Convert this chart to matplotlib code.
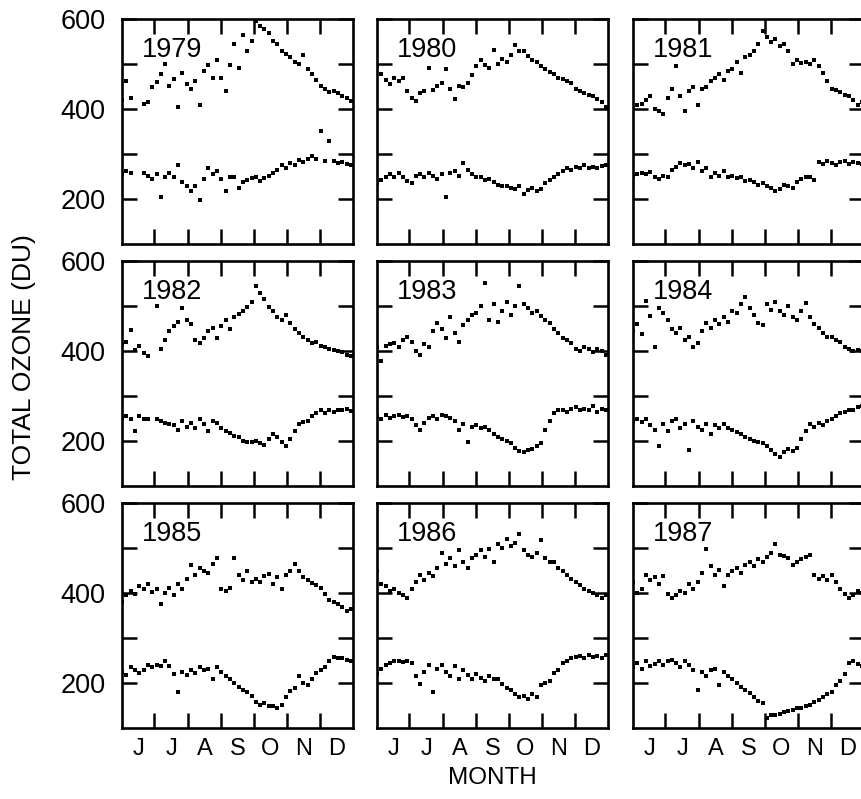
import matplotlib
matplotlib.use("Agg")
import matplotlib.pyplot as plt

plt.rcParams['font.family'] = ['Liberation Sans', 'DejaVu Sans']

nan = float('nan')

# ---- data -------------------------------------------------------------
years = [1979, 1980, 1981, 1982, 1983, 1984, 1985, 1986, 1987]
month_labels = ['J', 'J', 'A', 'S', 'O', 'N', 'D']
month_lengths = [30, 31, 31, 30, 31, 30, 31]          # June .. December
days = list(range(0, 213, 4))                          # day index since 1 June

max_1979 = [420, 462, 425, nan, nan, 412, 416, 448,
            460, 478, 500, 452, 466, 404, 480, 455,
            445, 462, 410, 485, 497, 470, 508,
            470, 440, 498, 545, 492, 565, 528, 552,
            595, 585, 578, 568, 552, 545, 530, 522,
            515, 505, 500, 520, 490, 478, 465,
            452, 445, 438, 440, 435, 428, 424, 418]
min_1979 = [255, 262, 258, nan, nan, 258, 252, 245,
            255, 205, 250, 258, 248, 275, 238, 228,
            218, 230, 198, 245, 268, 255, 262,
            245, 218, 248, 250, 225, 238, 242, 246,
            250, 240, 246, 252, 258, 265, 275, 270,
            280, 276, 286, 282, 290, 295, 290,
            352, 285, 330, 284, 280, 282, 278, 276]

max_1980 = [495, 478, 465, 455, 470, 462, 468, 440,
            425, 418, 435, 440, 492, 442, 452, 458,
            490, 445, 422, 452, 450, 458, 475,
            495, 510, 498, 492, 532, 500, 512, 505,
            520, 543, 528, 530, 518, 510, 505, 495,
            488, 482, 478, 470, 466, 462, 458,
            445, 440, 435, 432, 428, 422, 415, 405]
min_1980 = [235, 242, 250, 255, 248, 258, 250, 240,
            235, 252, 256, 248, 258, 252, 245, 255,
            205, 258, 262, 252, 280, 265, 255,
            250, 248, 242, 245, 238, 232, 228, 230,
            225, 222, 228, 212, 220, 225, 218, 222,
            235, 242, 250, 255, 262, 268, 265,
            272, 268, 275, 270, 272, 268, 274, 276]

max_1981 = [402, 410, 412, 420, 428, 400, 395, 390,
            425, 445, 496, 430, 396, 440, 448, 410,
            445, 450, 462, 470, 478, 465, 485,
            490, 505, 480, 515, 520, 530, 545, 573,
            560, 548, 555, 540, 545, 530, 500, 510,
            502, 505, 500, 508, 495, 480, 462,
            445, 442, 438, 432, 428, 420, 410, 415]
min_1981 = [252, 256, 258, 255, 260, 248, 245, 252,
            250, 265, 272, 280, 275, 278, 268, 282,
            262, 270, 248, 258, 252, 262, 250,
            252, 246, 248, 240, 242, 238, 232, 235,
            228, 225, 218, 222, 232, 228, 225, 238,
            245, 250, 248, 242, 282, 278, 284,
            280, 276, 282, 285, 278, 282, 280, 278]

max_1982 = [415, 420, 447, 402, 412, 395, 388, nan,
            500, 405, 425, 445, 455, 465, 495, 470,
            460, 425, 418, 430, 445, 452, 430,
            455, 470, 448, 475, 482, 490, 498, 508,
            544, 530, 515, 498, 490, 475, 468, 480,
            462, 450, 440, 432, 425, 418, 420,
            412, 410, 405, 402, 400, 398, 392, 388]
min_1982 = [252, 255, 250, 223, 255, 250, 248, nan,
            250, 245, 240, 238, 235, 225, 245, 232,
            240, 228, 250, 238, 222, 245, 240,
            230, 222, 218, 212, 208, 200, 198, 198,
            200, 195, 192, 205, 215, 208, 198, 190,
            205, 222, 238, 242, 245, 255, 262,
            270, 262, 268, 265, 270, 268, 272, 266]

max_1983 = [410, 378, 412, 415, 418, 408, 425, 432,
            420, 400, 392, 415, 410, 445, 462, 450,
            430, 475, 440, 420, 458, 470, 480,
            485, 500, 551, 470, 505, 465, 490, 510,
            480, 500, 544, 505, 495, 485, 490, 478,
            470, 462, 448, 440, 430, 425, 418,
            405, 400, 410, 405, 398, 405, 400, 392]
min_1983 = [255, 250, 258, 252, 255, 258, 254, 256,
            250, 235, 225, 240, 252, 256, 250, 258,
            255, 252, 245, 225, 238, 197, 232,
            235, 228, 232, 225, 215, 210, 205, 200,
            195, 185, 178, 175, 180, 182, 188, 195,
            225, 245, 262, 268, 270, 265, 272,
            275, 270, 272, 268, 278, 265, 272, 270]

max_1984 = [445, 460, 438, 512, 478, 410, 495, 485,
            470, 448, 440, 452, 425, 432, 408, 418,
            445, 462, 452, 470, 460, 475, 465,
            490, 485, 505, 520, 495, 480, 462, 458,
            505, 492, 510, 488, 480, 500, 475, 468,
            490, 507, 475, 460, 452, 440, 432,
            432, 425, 420, 410, 405, 400, 402, 400]
min_1984 = [245, 248, 242, 250, 235, 225, 188, 238,
            222, 245, 250, 230, 238, 180, 245, 232,
            225, 238, 215, 235, 228, 238, 230,
            225, 220, 215, 208, 205, 200, 198, 195,
            188, 180, 172, 165, 175, 182, 178, 185,
            205, 222, 238, 232, 240, 235, 245,
            248, 255, 262, 265, 270, 268, 275, 278]

max_1985 = [380, 395, 405, 398, 415, 408, 420, 402,
            410, 375, 400, 412, 395, 420, 408, 432,
            462, 440, 455, 450, 445, 465, 478,
            410, 405, 412, 478, 440, 430, 448, 425,
            432, 425, 438, 442, 420, 435, 410, 440,
            450, 465, 448, 435, 430, 422, 418,
            412, 398, 385, 380, 375, 370, 360, 365]
min_1985 = [225, 218, 235, 230, 222, 228, 240, 235,
            240, 238, 248, 238, 220, 180, 225, 218,
            230, 222, 235, 228, 232, 210, 235,
            225, 215, 208, 200, 192, 185, 180, 172,
            158, 152, 155, 150, 148, 145, 152, 170,
            182, 188, 215, 200, 195, 210, 222,
            228, 235, 248, 258, 255, 255, 252, 248]

max_1986 = [450, 420, 415, 405, 408, 400, 395, 388,
            410, 425, 440, 430, 445, 438, 455, 490,
            465, 478, 460, 495, 470, 455, 478,
            485, 495, 480, 498, 470, 510, 500, 520,
            505, 512, 532, 495, 485, 480, 490, 518,
            478, 470, 468, 455, 448, 440, 432,
            425, 418, 410, 405, 400, 395, 390, 395]
min_1986 = [220, 232, 240, 245, 248, 250, 246, 250,
            245, 215, 198, 225, 240, 180, 232, 240,
            225, 215, 238, 210, 228, 218, 210,
            220, 212, 205, 215, 208, 210, 198, 190,
            185, 175, 168, 172, 165, 175, 170, 195,
            200, 205, 222, 228, 245, 250, 255,
            258, 260, 255, 262, 258, 260, 255, 262]

max_1987 = [425, 400, 410, 440, 428, 435, 420, 438,
            398, 390, 395, 405, 400, 420, 410, 425,
            445, 497, 460, 440, 452, 415, 440,
            448, 455, 445, 462, 470, 460, 475, 468,
            480, 490, 510, 485, 482, 478, 462, 470,
            475, 480, 485, 440, 432, 438, 428,
            440, 425, 410, 398, 388, 395, 405, 400]
min_1987 = [235, 245, 232, 250, 238, 242, 248, 240,
            250, 252, 245, 235, 248, 240, 228, 185,
            225, 215, 228, 232, 195, 225, 215,
            210, 200, 192, 185, 178, 168, 160, 155,
            122, 130, 128, 132, 135, 138, 140, 145,
            145, 148, 152, 158, 162, 168, 175,
            180, 195, 205, 220, 245, 250, 242, 238]

series = [(max_1979, min_1979), (max_1980, min_1980), (max_1981, min_1981),
          (max_1982, min_1982), (max_1983, min_1983), (max_1984, min_1984),
          (max_1985, min_1985), (max_1986, min_1986), (max_1987, min_1987)]

# ---- layout -----------------------------------------------------------
W, H = 862, 799
fig = plt.figure(figsize=(W / 100, H / 100), dpi=100)

col_x = [122, 377, 633]
row_y = [19, 261, 503]
aw, ah = 231, 225

bounds = [0]
for m in month_lengths:
    bounds.append(bounds[-1] + m)
inner_bounds = bounds[1:-1]
centers = [(a + b) / 2 for a, b in zip(bounds[:-1], bounds[1:])]

for i, (yr, (hi, lo)) in enumerate(zip(years, series)):
    r, c = divmod(i, 3)
    ax = fig.add_axes([col_x[c] / W, 1 - (row_y[r] + ah) / H, aw / W, ah / H])
    ax.plot(days, hi, linestyle='none', marker='s', ms=2.5, mew=0, color='black')
    ax.plot(days, lo, linestyle='none', marker='s', ms=2.5, mew=0, color='black')
    ax.set_xlim(bounds[0], bounds[-1])
    ax.set_ylim(100, 600)

    ax.set_xticks(inner_bounds)
    ax.set_xticklabels([])
    ax.set_xticks(centers, minor=True)
    ax.tick_params(axis='x', which='major', direction='in', length=11, width=1.8,
                   top=True, bottom=True, labelbottom=False)
    ax.tick_params(axis='x', which='minor', length=0, labelsize=17, pad=7,
                   top=False, bottom=True, labelbottom=(r == 2))
    if r == 2:
        ax.set_xticklabels(month_labels, minor=True)
    else:
        ax.set_xticklabels([], minor=True)

    ax.set_yticks([200, 300, 400, 500, 600])
    ax.set_yticklabels(['200', '', '400', '', '600'])
    ax.tick_params(axis='y', direction='in', length=11, width=1.8, left=True,
                   right=True, labelleft=(c == 0), labelsize=19.5, pad=12)

    for s in ax.spines.values():
        s.set_linewidth(1.9)

    ax.text(0.085, 0.83, str(yr), transform=ax.transAxes, fontsize=19.5,
            ha='left', va='baseline')

fig.text(24 / W, 1 - 357 / H, 'TOTAL OZONE (DU)', rotation=90, ha='center',
         va='center', fontsize=19)
fig.text(492 / W, 1 - 778 / H, 'MONTH', ha='center', va='center', fontsize=17.5)

fig.savefig('out.png', dpi=100)
